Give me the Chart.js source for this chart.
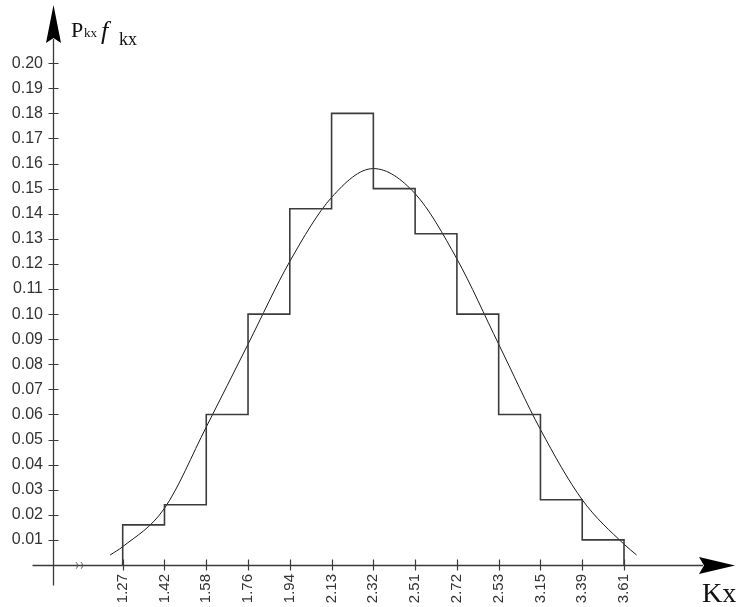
<!DOCTYPE html>
<html>
<head>
<meta charset="utf-8">
<script src="https://cdn.jsdelivr.net/npm/chart.js@4/dist/chart.umd.min.js"></script>
<style>
  html, body { margin: 0; padding: 0; background: #fff; }
  #wrap { width: 744px; height: 607px; }
</style>
</head>
<body>
<div id="wrap"><canvas id="chart" width="744" height="607"></canvas></div>
<script>
// Kx interval bounds, as printed under the axis (equally spaced)
const xLabels = ['1.27', '1.42', '1.58', '1.76', '1.94', '2.13', '2.32', '2.51', '2.72', '2.53', '3.15', '3.39', '3.61'];
// histogram height for each interval between neighbouring bounds
const binHeights = [0.016, 0.024, 0.060, 0.100, 0.142, 0.180, 0.150, 0.132, 0.100, 0.060, 0.026, 0.010];
// fitted density curve, position in tick units (0 = 1.27 ... 12 = 3.61)
const curvePos = [-0.3, 0, 1, 2, 3, 4, 5, 6, 7, 8, 9, 10, 11, 12, 12.3];
const curveVals = [0.004, 0.0073, 0.0226, 0.055, 0.088, 0.121, 0.1465, 0.158, 0.148, 0.122, 0.088, 0.054, 0.026, 0.0083, 0.004];
// y tick labels
const yTicks = [0.01, 0.02, 0.03, 0.04, 0.05, 0.06, 0.07, 0.08, 0.09, 0.10,
                0.11, 0.12, 0.13, 0.14, 0.15, 0.16, 0.17, 0.18, 0.19, 0.20];

// axis ranges (the axes run past the data to the arrow heads)
const xMin = -1.6685, xMax = 14.657;
const yMin = 0, yMax = 0.2232;

const LABEL_FONT = 'Liberation Sans';
const SERIF = '"Liberation Serif", "Times New Roman", serif';

// staircase outline of the histogram
const histPoints = [{ x: 0, y: 0 }];
binHeights.forEach((h, i) => histPoints.push({ x: i, y: h }));
histPoints.push({ x: binHeights.length, y: binHeights[binHeights.length - 1] });
histPoints.push({ x: binHeights.length, y: 0 });

const curvePoints = curvePos.map((p, i) => ({ x: p, y: curveVals[i] }));

/**
 * Draws the arrowed axes, cross ticks, break mark and axis titles
 */
const arrowAxes = {
    id: 'arrowAxes',
    afterDatasetsDraw(chart) {
        const { ctx, chartArea, scales: { x, y } } = chart;
        const ax = Math.round(x.getPixelForValue(xMin)) + 0.5;
        const ay = Math.round(y.getPixelForValue(0)) + 0.5;
        const right = chartArea.right;
        const top = chartArea.top;

        ctx.save();
        ctx.strokeStyle = '#3a3a3a';
        ctx.fillStyle = '#000';
        ctx.lineWidth = 1.3;

        // x axis line + arrow
        ctx.beginPath();
        ctx.moveTo(ax - 21, ay);
        ctx.lineTo(right - 32, ay);
        ctx.stroke();
        ctx.beginPath();
        ctx.moveTo(right, ay);
        ctx.lineTo(right - 36, ay - 8.5);
        ctx.lineTo(right - 31, ay);
        ctx.lineTo(right - 36, ay + 8.5);
        ctx.closePath();
        ctx.fill();

        // y axis line + arrow
        ctx.beginPath();
        ctx.moveTo(ax, ay + 20);
        ctx.lineTo(ax, top + 34);
        ctx.stroke();
        ctx.beginPath();
        ctx.moveTo(ax, top);
        ctx.lineTo(ax - 7.5, top + 38);
        ctx.lineTo(ax, top + 33);
        ctx.lineTo(ax + 7.5, top + 38);
        ctx.closePath();
        ctx.fill();

        // cross ticks
        ctx.lineWidth = 1.2;
        ctx.beginPath();
        yTicks.forEach(v => {
            const py = Math.round(y.getPixelForValue(v)) + 0.5;
            ctx.moveTo(ax - 5, py);
            ctx.lineTo(ax + 5, py);
        });
        xLabels.forEach((_, i) => {
            const px = Math.round(x.getPixelForValue(i)) + 0.5;
            ctx.moveTo(px, ay - 6);
            ctx.lineTo(px, ay + 5);
        });
        ctx.stroke();

        // axis break mark
        ctx.lineWidth = 1;
        ctx.strokeStyle = '#555';
        [77, 82].forEach(bx => {
            ctx.beginPath();
            ctx.arc(bx - 4, ay, 4.5, -0.85, 0.85);
            ctx.stroke();
        });

        // titles
        ctx.fillStyle = '#111';
        ctx.textBaseline = 'alphabetic';
        ctx.font = '28px ' + SERIF;
        ctx.fillText('Kx', 702, 602);

        ctx.font = '22px ' + SERIF;
        ctx.fillText('P', 71, 37);
        ctx.font = '13px ' + SERIF;
        ctx.fillText('kx', 84, 37);
        ctx.font = 'italic 26px ' + SERIF;
        ctx.fillText('f', 101, 39);
        ctx.font = '18px ' + SERIF;
        ctx.fillText('kx', 119, 45);
        ctx.restore();
    }
};

new Chart(document.getElementById('chart'), {
    type: 'line',
    data: {
        datasets: [
            {
                label: 'histogram',
                data: histPoints,
                stepped: 'before',
                borderColor: '#3c3c3c',
                borderWidth: 1.6,
                pointRadius: 0,
                fill: false,
                clip: false
            },
            {
                label: 'curve',
                data: curvePoints,
                cubicInterpolationMode: 'monotone',
                borderColor: '#1a1a1a',
                borderWidth: 1,
                pointRadius: 0,
                fill: false,
                clip: false
            }
        ]
    },
    options: {
        responsive: false,
        animation: false,
        events: [],
        layout: { padding: { top: 5, right: 9, bottom: 0, left: 0 } },
        plugins: {
            legend: { display: false },
            tooltip: { enabled: false }
        },
        scales: {
            x: {
                type: 'linear',
                min: xMin,
                max: xMax,
                grid: { display: false, drawTicks: false },
                border: { display: false },
                afterBuildTicks: s => { s.ticks = xLabels.map((_, i) => ({ value: i })); },
                afterFit: s => { s.height = 42; s.paddingLeft = 0; s.paddingRight = 0; },
                ticks: {
                    autoSkip: false,
                    minRotation: 90,
                    maxRotation: 90,
                    padding: 9,
                    color: '#333',
                    font: { family: LABEL_FONT, size: 15 },
                    callback: v => xLabels[v]
                }
            },
            y: {
                type: 'linear',
                min: yMin,
                max: yMax,
                grid: { display: false, drawTicks: false },
                border: { display: false },
                afterBuildTicks: s => { s.ticks = yTicks.map(v => ({ value: v })); },
                afterFit: s => { s.width = 53; s.paddingTop = 0; s.paddingBottom = 0; },
                ticks: {
                    padding: 10,
                    color: '#333',
                    font: { family: LABEL_FONT, size: 16 },
                    callback: v => v.toFixed(2)
                }
            }
        }
    },
    plugins: [arrowAxes]
});
</script>
</body>
</html>
